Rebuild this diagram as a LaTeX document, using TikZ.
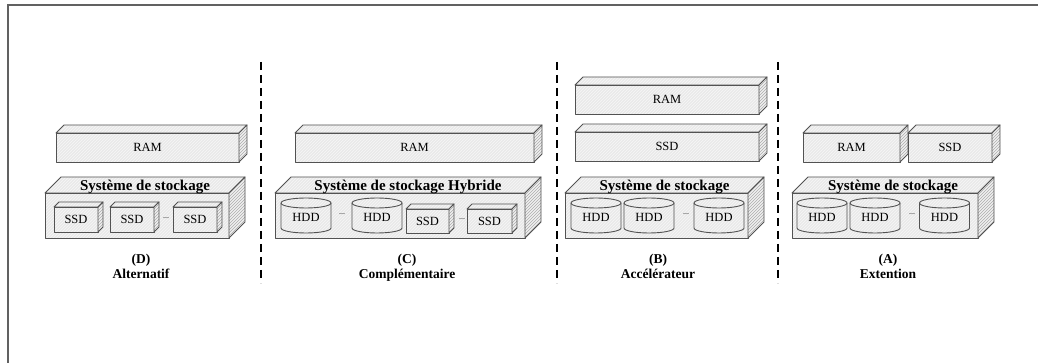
\documentclass[tikz,border=0pt]{standalone}
\usepackage{fontspec}
\setmainfont{Liberation Serif}
\usetikzlibrary{calc,patterns}
\tikzset{
  x=1pt, y=-1pt,
  every node/.style={inner sep=0pt, outer sep=0pt},
  edge/.style={draw=black!68, line width=0.9pt, line join=round},
  hatchlight/.style={preaction={fill=gray!17}, preaction={pattern=north east lines, pattern color=gray!6}},
  front/.style={hatchlight, edge, font=\fontsize{12.5}{14}\selectfont},
  topface/.style={hatchlight, edge},
  sideface/.style={preaction={fill=gray!12}, preaction={pattern=north east lines, pattern color=gray!65}, edge},
  cyl/.style={hatchlight, edge},
  txt/.style={font=\fontsize{12.5}{14}\selectfont},
  title/.style={font=\bfseries\fontsize{15}{15}\selectfont, anchor=base},
  caption/.style={font=\bfseries\fontsize{13.5}{14}\selectfont, anchor=base},
  dots/.style={font=\fontsize{8}{8}\selectfont},
  sep/.style={draw=black, line width=1.4pt, dash pattern=on 8pt off 5pt},
  frame/.style={draw=black!62, line width=1.2pt}
}
\newcommand\faces[2]{%
  \path[topface] (#1.north west) -- ++(#2,-#2) -- ($(#1.north east)+(#2,-#2)$) -- (#1.north east) -- cycle;
  \path[sideface] (#1.north east) -- ++(#2,-#2) -- ($(#1.south east)+(#2,-#2)$) -- (#1.south east) -- cycle;
}
\newcommand\cube[7]{%
  \node[front, minimum width=#4pt, minimum height=#5pt] (#1) at (#2,#3) {#7};
  \faces{#1}{#6}}
\newcommand\hdd[3]{%
  \node[minimum width=50pt, minimum height=35pt] (#1) at (#2,#3) {};
  \path[cyl] ($(#1.north west)+(0,5)$) -- ($(#1.south west)+(0,-5)$)
     arc[start angle=180, end angle=360, x radius=25pt, y radius=5pt]
     -- ($(#1.north east)+(0,5)$)
     arc[start angle=0, end angle=180, x radius=25pt, y radius=5pt] -- cycle;
  \draw[edge] ($(#1.north west)+(0,5)$) arc[start angle=180, end angle=360, x radius=25pt, y radius=5pt];
  \node[txt] (#1t) at ($(#1)+(0,2)$) {HDD};
}
\begin{document}
\begin{tikzpicture}
\useasboundingbox (0,0) rectangle (1038,363);
% frame
\coordinate (fbl) at (8,364);
\coordinate (ftl) at (8,5);
\coordinate (ftr) at (1039,5);
\draw[frame] (fbl) -- (ftl) -- (ftr);

% separators
\foreach \n/\x in {1/261, 2/557, 3/778} {
  \coordinate (s\n t) at (\x,62);
  \coordinate (s\n b) at (\x,283);
  \draw[sep] (s\n t) -- (s\n b);
}

% ---------- Panel D ----------
\cube{ramD}{147.5}{147.5}{183}{29}{8}{RAM}
\cube{stoD}{137}{215.5}{184}{45}{16}{}
\node[title] (tD) at ($(stoD.north)+(8,-2)$) {Système de stockage};
\cube{ssdD1}{76}{219.5}{44}{25}{5}{SSD}
\cube{ssdD2}{132}{219.5}{44}{25}{5}{SSD}
\node[dots] (dD) at (166,218) {...};
\cube{ssdD3}{195}{219.5}{44}{25}{5}{SSD}
\node[caption] (cD1) at (141,264) {(D)};
\node[caption] (cD2) at (141,278) {Alternatif};

% ---------- Panel C ----------
\cube{ramC}{414.5}{147.5}{239}{29}{8}{RAM}
\cube{stoC}{400}{215.5}{250}{45}{16}{}
\node[title] (tC) at ($(stoC.north)+(8,-2)$) {Système de stockage Hybride};
\hdd{hddC1}{306}{215.5}
\node[dots] (dC1) at (342,214) {...};
\hdd{hddC2}{377}{215.5}
\cube{ssdC1}{427.5}{221}{43}{24}{5}{SSD}
\node[dots] (dC2) at (462,219) {...};
\cube{ssdC2}{489.5}{221}{45}{24}{5}{SSD}
\node[caption] (cC1) at (407,264) {(C)};
\node[caption] (cC2) at (407,278) {Complémentaire};

% ---------- Panel B ----------
\cube{ramB}{667}{99.5}{184}{29}{8}{RAM}
\cube{ssdB}{667}{146.5}{184}{29}{8}{SSD}
\cube{stoB}{656.5}{215.5}{183}{45}{16}{}
\node[title] (tB) at ($(stoB.north)+(8,-2)$) {Système de stockage};
\hdd{hddB1}{596}{215.5}
\hdd{hddB2}{649}{215.5}
\node[dots] (dB) at (686,214) {...};
\hdd{hddB3}{719}{215.5}
\node[caption] (cB1) at (658,264) {(B)};
\node[caption] (cB2) at (658,278) {Accélérateur};

% ---------- Panel A ----------
\cube{ramA}{851.5}{147.5}{97}{29}{8}{RAM}
\cube{ssdA}{950}{147.5}{84}{29}{8}{SSD}
\cube{stoA}{885}{215.5}{186}{45}{16}{}
\node[title] (tA) at ($(stoA.north)+(8,-2)$) {Système de stockage};
\hdd{hddA1}{822}{215.5}
\hdd{hddA2}{875}{215.5}
\node[dots] (dA) at (912,214) {...};
\hdd{hddA3}{944.5}{215.5}
\node[caption] (cA1) at (888,264) {(A)};
\node[caption] (cA2) at (888,278) {Extention};
\end{tikzpicture}
\end{document}
